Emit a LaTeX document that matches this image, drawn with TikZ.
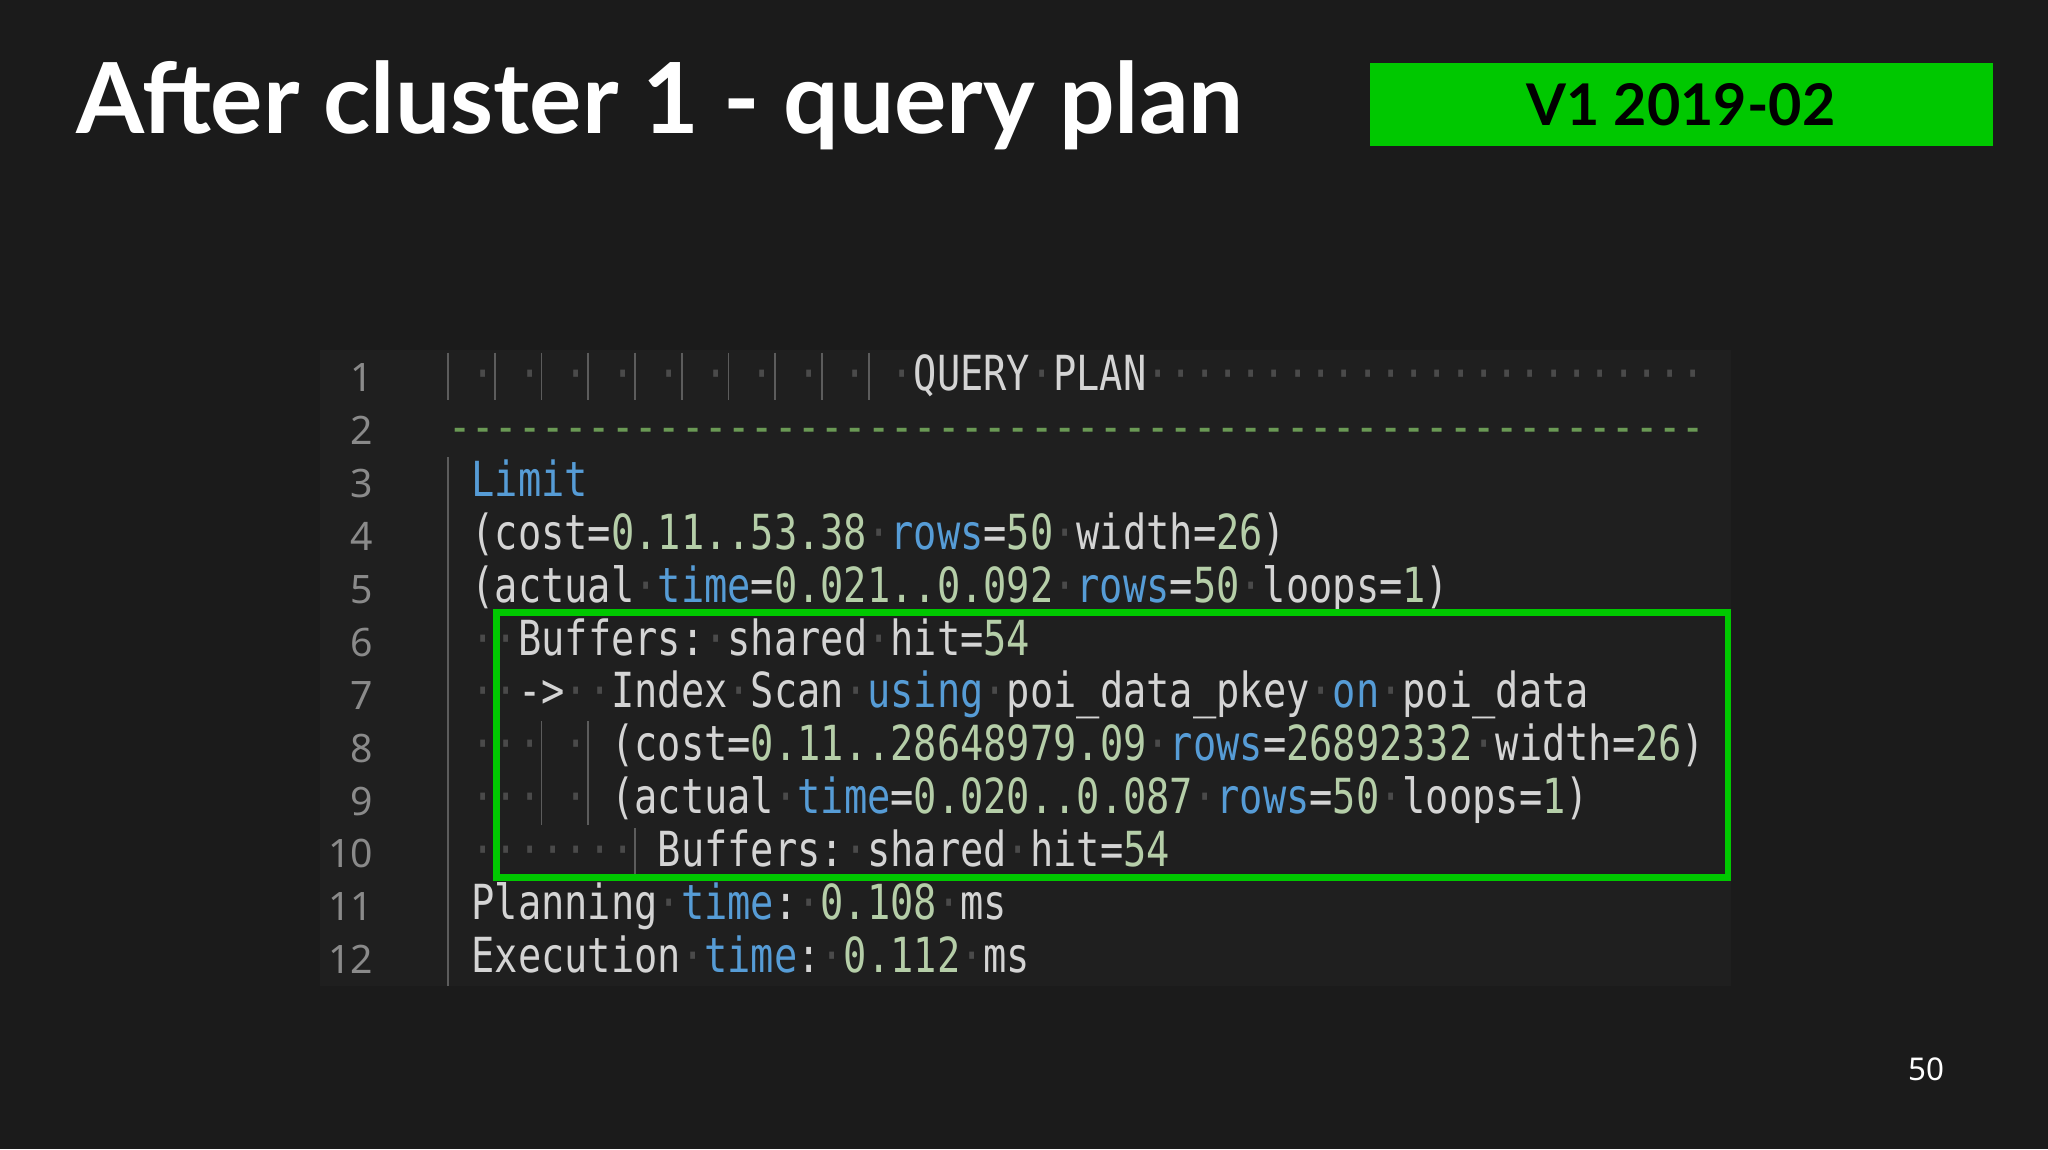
\documentclass[tikz,border=0pt]{standalone}
\usepackage{fontspec}
\setmainfont{Lato}
\newfontfamily\codefont[FakeStretch=0.8]{DejaVu Sans Mono}
\newfontfamily\numfont{Noto Sans}
\definecolor{bgc}{HTML}{1B1B1B}
\definecolor{panel}{HTML}{1F1F1F}
\definecolor{txt}{HTML}{D4D4D4}
\definecolor{kwc}{HTML}{569CD6}
\definecolor{numc}{HTML}{B5CEA8}
\definecolor{dotc}{HTML}{4A4A4A}
\definecolor{guidec}{HTML}{5C5C5C}
\definecolor{lnc}{HTML}{8A8A8A}
\definecolor{dashc}{HTML}{6A9955}
\definecolor{hl}{HTML}{00C800}
\newcommand\dt{{\color{dotc}·}}
\newcommand\kw[1]{{\color{kwc}#1}}
\newcommand\nm[1]{{\color{numc}#1}}
\begin{document}
\begin{tikzpicture}[x=1pt,y=1pt,
  code/.style={anchor=base west,inner sep=0pt,text=txt,font=\codefont\fontsize{37}{40}\selectfont},
  lnum/.style={anchor=base east,inner sep=0pt,text=lnc,font=\numfont\fontsize{30}{32}\selectfont},
  guide/.style={draw=guidec,line width=1.3pt}]
\fill[bgc] (0,0) rectangle (1568,-880);
\useasboundingbox (0,0) rectangle (1568,-880);
\fill[panel] (245,-268) rectangle (1325,-755);
% title
\node[anchor=base west,inner sep=0pt,text=white] (title) at (58,-102)
  {\resizebox{894pt}{!}{\bfseries After cluster 1 - query plan}};
\fill[hl] (1049,-48) rectangle (1526,-112);
\node[text=black,inner sep=0pt,font=\bfseries\fontsize{44}{46}\selectfont] (ver) at (1287,-80) {V1 2019-02};
\node[text=white,font=\numfont\fontsize{24}{26}\selectfont] (page) at (1475,-819) {50};
% line numbers
\foreach \i in {1,...,12}{
  \node[lnum] (n\i) at (286,{-300-(\i-1)*40.5}) {\i};
}
% guides
\foreach \c in {0,2,...,18}{
  \draw[guide] ({343+\c*17.9},-270) -- ({343+\c*17.9},-306);
}
\draw[guide] (343,-350) -- (343,-755);
\draw[guide] ({343+4*17.9},-552) -- ({343+4*17.9},-632);
\draw[guide] ({343+6*17.9},-552) -- ({343+6*17.9},-632);
\draw[guide] ({343+8*17.9},-634) -- ({343+8*17.9},-672);
% code lines
\newcommand\cl[3]{\node[code] (l#1) at ({343+#2*17.9},{-299-(#1-1)*40.5}) {#3};}
\cl{1}{0}{\ \dt\ \dt\ \dt\ \dt\ \dt\ \dt\ \dt\ \dt\ \dt\ \dt QUERY\dt PLAN\dt\dt\dt\dt\dt\dt\dt\dt\dt\dt\dt\dt\dt\dt\dt\dt\dt\dt\dt\dt\dt\dt\dt\dt}
\cl{2}{0}{\color{dashc}------------------------------------------------------}
\cl{3}{0}{\ \kw{Limit}}
\cl{4}{0}{\ (cost=\nm{0.11..53.38}\dt\kw{rows}=\nm{50}\dt width=\nm{26})}
\cl{5}{0}{\ (actual\dt\kw{time}=\nm{0.021..0.092}\dt\kw{rows}=\nm{50}\dt loops=\nm{1})}
\cl{6}{1}{\dt\dt Buffers:\dt shared\dt hit=\nm{54}}
\cl{7}{1}{\dt\dt->\dt\dt Index\dt Scan\dt\kw{using}\dt poi\_data\_pkey\dt\kw{on}\dt poi\_data}
\cl{8}{1}{\dt\dt\dt\ \dt\ (cost=\nm{0.11..28648979.09}\dt\kw{rows}=\nm{26892332}\dt width=\nm{26})}
\cl{9}{1}{\dt\dt\dt\ \dt\ (actual\dt\kw{time}=\nm{0.020..0.087}\dt\kw{rows}=\nm{50}\dt loops=\nm{1})}
\cl{10}{1}{\dt\dt\dt\dt\dt\dt\dt\ Buffers:\dt shared\dt hit=\nm{54}}
\cl{11}{0}{\ Planning\dt\kw{time}:\dt\nm{0.108}\dt ms}
\cl{12}{0}{\ Execution\dt\kw{time}:\dt\nm{0.112}\dt ms}
% highlight box
\draw[hl,line width=5pt] (380,-469) rectangle (1323,-672);
\end{tikzpicture}
\end{document}
